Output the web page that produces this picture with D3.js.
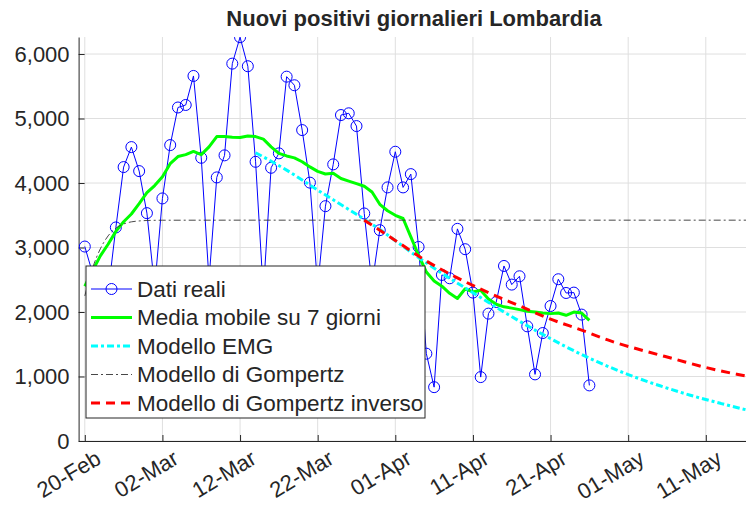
<!DOCTYPE html>
<html>
<head>
<meta charset="utf-8">
<script src="https://cdn.jsdelivr.net/npm/d3@7"></script>
<style>
  body { margin: 0; background: #fff; }
  text { font-family: "Liberation Sans", Arial, sans-serif; fill: #262626; }
</style>
</head>
<body>
<div id="chart"></div>
<script>
// tick labels (every 10 days from the first day)
const tickDays = [0, 10, 20, 30, 40, 50, 60, 70, 80];
const tickLabels = ["20-Feb", "02-Mar", "12-Mar", "22-Mar", "01-Apr", "11-Apr", "21-Apr", "01-May", "11-May"];
const yTicks = [0, 1000, 2000, 3000, 4000, 5000, 6000];

// daily new positives, one value per day starting at 20-Feb
const realValues = [
  3015, 2600, 1900, 2300, 3311, 4247, 4557, 4185, 3533, 2380,
  3761, 4588, 5171, 5210, 5660, 4391, 2500, 4087, 4429, 5851,
  6261, 5811, 4329, 2300, 4236, 4460, 5649, 5516, 4821, 4006,
  2390, 3641, 4289, 5054, 5081, 4883, 3528, 2420, 3269, 3932,
  4485, 3932, 4138, 3009, 1354, 835, 2575, 2523, 3289, 2974,
  2301, 991, 1975, 2155, 2714, 2425, 2554, 1778, 1033, 1674,
  2093, 2508, 2295, 2301, 1960, 862
];

// 7 day moving average, same days
const movingAvg = [
  2400, 2640, 2870, 3050, 3250, 3400, 3520, 3680, 3850, 3960,
  4096, 4300, 4410, 4440, 4490, 4440, 4560, 4720, 4720, 4710,
  4705, 4730, 4720, 4680, 4560, 4460, 4420, 4390, 4330, 4250,
  4180, 4140, 4150, 4070, 4030, 3990, 3950, 3860, 3670, 3570,
  3500, 3450, 3165, 2880, 2620, 2480, 2400, 2290, 2210, 2360,
  2311, 2337, 2200, 2120, 2080, 2060, 2037, 2010, 2000, 1985,
  1975, 1984, 1949, 2000, 1984, 1871
];

// EMG model
const emgDays   = [22, 26, 30, 34, 38, 42, 46, 50, 54, 58, 62, 66, 70, 74, 78, 82, 86];
const emgValues = [4470, 4200, 3890, 3590, 3280, 2930, 2600, 2300, 2000, 1720, 1460, 1230, 1030, 860, 710, 580, 460];

// Gompertz model
const gompDays   = [0, 1, 2, 3, 4, 5, 6, 7, 8, 10, 20, 40, 60, 86];
const gompValues = [2250, 2680, 2980, 3180, 3300, 3365, 3398, 3412, 3419, 3423, 3424, 3424, 3424, 3424];

// inverse Gompertz model
const gompInvDays   = [36, 40, 44, 48, 52, 56, 60, 64, 68, 72, 76, 80, 84, 86];
const gompInvValues = [3424, 3110, 2790, 2530, 2300, 2095, 1890, 1720, 1540, 1400, 1270, 1140, 1035, 990];

const legendLabels = ["Dati reali", "Media mobile su 7 giorni", "Modello EMG", "Modello di Gompertz", "Modello di Gompertz inverso"];

const width = 746;
const height = 507;
const margin = { top: 37, right: -2.5, bottom: 66, left: 78.6 };

const svg = d3.select("#chart")
    .append("svg")
    .attr("width", width)
    .attr("height", height);

const xScale = d3.scaleLinear()
    .domain([-0.8, 85.5])
    .range([margin.left, width - margin.right]);

const yScale = d3.scaleLinear()
    .domain([0, 6264])
    .range([height - margin.bottom, margin.top]);

svg.append("defs").append("clipPath")
    .attr("id", "plot-clip")
    .append("rect")
    .attr("x", margin.left)
    .attr("y", margin.top)
    .attr("width", width - margin.right - margin.left)
    .attr("height", height - margin.bottom - margin.top);

// grid
const grid = svg.append("g").attr("stroke", "#dfdfdf").attr("stroke-width", 1);
grid.selectAll("line.gx")
    .data(tickDays)
    .join("line")
    .attr("class", "gx")
    .attr("x1", d => xScale(d))
    .attr("x2", d => xScale(d))
    .attr("y1", margin.top)
    .attr("y2", height - margin.bottom);
grid.selectAll("line.gy")
    .data(yTicks)
    .join("line")
    .attr("class", "gy")
    .attr("x1", margin.left)
    .attr("x2", width)
    .attr("y1", d => yScale(d))
    .attr("y2", d => yScale(d));

// axes
const xAxis = svg.append("g")
    .attr("transform", `translate(0,${height - margin.bottom})`)
    .call(d3.axisBottom(xScale)
        .tickValues(tickDays)
        .tickFormat((d, i) => tickLabels[i])
        .tickSizeInner(-6)
        .tickSizeOuter(0));
xAxis.select(".domain").attr("stroke", "#262626");
xAxis.selectAll(".tick line").attr("stroke", "#262626");
xAxis.selectAll("text")
    .style("font-size", "22px")
    .attr("fill", "#262626")
    .attr("text-anchor", "end")
    .attr("dy", "0.72em")
    .attr("y", 0)
    .attr("transform", "translate(9,8) rotate(-31)");

const yAxis = svg.append("g")
    .attr("transform", `translate(${margin.left},0)`)
    .call(d3.axisLeft(yScale)
        .tickValues(yTicks)
        .tickFormat(d3.format(","))
        .tickSizeInner(-6)
        .tickSizeOuter(0)
        .tickPadding(9));
yAxis.select(".domain").attr("stroke", "#262626");
yAxis.selectAll(".tick line").attr("stroke", "#262626");
yAxis.selectAll("text")
    .style("font-size", "22px")
    .attr("fill", "#262626");

// series
const plot = svg.append("g").attr("clip-path", "url(#plot-clip)");

const realLine = d3.line()
    .x((d, i) => xScale(i))
    .y(d => yScale(d));

plot.append("path")
    .datum(realValues)
    .attr("fill", "none")
    .attr("stroke", "#0000ff")
    .attr("stroke-width", 1)
    .attr("d", realLine);

plot.selectAll("circle.real")
    .data(realValues)
    .join("circle")
    .attr("class", "real")
    .attr("cx", (d, i) => xScale(i))
    .attr("cy", d => yScale(d))
    .attr("r", 5.5)
    .attr("fill", "none")
    .attr("stroke", "#0000ff")
    .attr("stroke-width", 1);

plot.append("path")
    .datum(movingAvg)
    .attr("fill", "none")
    .attr("stroke", "#00ff00")
    .attr("stroke-width", 3)
    .attr("stroke-linejoin", "round")
    .attr("d", realLine);

const modelLine = d3.line()
    .x(d => xScale(d[0]))
    .y(d => yScale(d[1]))
    .curve(d3.curveMonotoneX);

plot.append("path")
    .datum(d3.zip(emgDays, emgValues))
    .attr("fill", "none")
    .attr("stroke", "#00ffff")
    .attr("stroke-width", 3)
    .attr("stroke-dasharray", "7,3,3,3")
    .attr("d", modelLine);

plot.append("path")
    .datum(d3.zip(gompDays, gompValues))
    .attr("fill", "none")
    .attr("stroke", "#333333")
    .attr("stroke-width", 0.9)
    .attr("stroke-dasharray", "7,3,2,3")
    .attr("d", modelLine);

plot.append("path")
    .datum(d3.zip(gompInvDays, gompInvValues))
    .attr("fill", "none")
    .attr("stroke", "#ff0000")
    .attr("stroke-width", 3)
    .attr("stroke-dasharray", "9,6")
    .attr("d", modelLine);

// title
svg.append("text")
    .attr("x", 414)
    .attr("y", 26)
    .attr("text-anchor", "middle")
    .style("font-size", "22px")
    .style("font-weight", "bold")
    .attr("fill", "#000")
    .text("Nuovi positivi giornalieri Lombardia");

// legend
const legend = svg.append("g").attr("transform", "translate(86,266)");
legend.append("rect")
    .attr("width", 339)
    .attr("height", 152)
    .attr("fill", "#fff")
    .attr("stroke", "#262626")
    .attr("stroke-width", 1);

const legendStyles = [
    { color: "#0000ff", w: 1, dash: null },
    { color: "#00ff00", w: 3, dash: null },
    { color: "#00ffff", w: 3, dash: "7,3,3,3" },
    { color: "#333333", w: 0.9, dash: "7,3,2,3" },
    { color: "#ff0000", w: 3, dash: "9,6" }
];

const rows = legend.selectAll("g.row")
    .data(legendLabels)
    .join("g")
    .attr("class", "row")
    .attr("transform", (d, i) => `translate(0,${23 + i * 28.5})`);

rows.append("line")
    .attr("x1", 5)
    .attr("x2", 46)
    .attr("stroke", (d, i) => legendStyles[i].color)
    .attr("stroke-width", (d, i) => legendStyles[i].w)
    .attr("stroke-dasharray", (d, i) => legendStyles[i].dash);

rows.filter((d, i) => i === 0)
    .append("circle")
    .attr("cx", 25.5)
    .attr("r", 5.5)
    .attr("fill", "none")
    .attr("stroke", "#0000ff");

rows.append("text")
    .attr("x", 51)
    .attr("dy", "0.35em")
    .style("font-size", "22.5px")
    .attr("fill", "#000")
    .text(d => d);
</script>
</body>
</html>
